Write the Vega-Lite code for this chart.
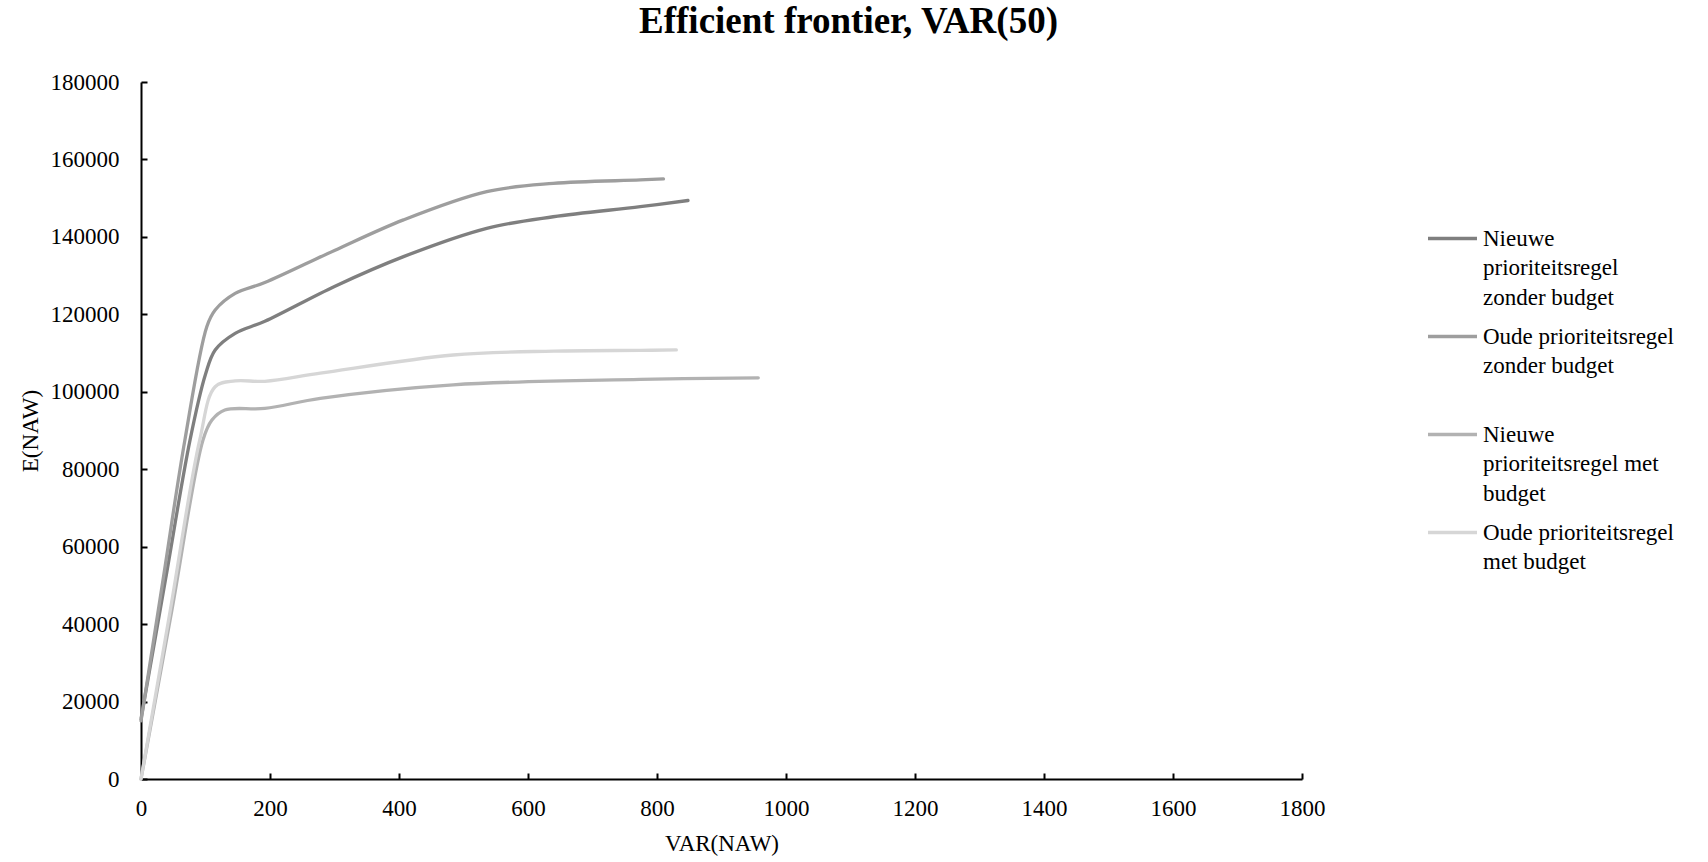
{
  "$schema": "https://vega.github.io/schema/vega-lite/v6.json",
  "width": 1161,
  "height": 697,
  "autosize": {"type": "none"},
  "padding": {"left": 141, "top": 82, "right": 406, "bottom": 83},
  "background": "white",
  "title": {
    "text": "Efficient frontier, VAR(50)",
    "font": "Liberation Serif",
    "fontSize": 37,
    "fontWeight": "bold",
    "color": "black",
    "anchor": "middle",
    "baseline": "alphabetic",
    "dx": 127,
    "offset": 1
  },
  "config": {
    "view": {"stroke": null},
    "style": {"guide-label": {"lineHeight": 29.5}}
  },
  "data": {
    "values": [
      {"s": "Nieuwe prioriteitsregel zonder budget", "x": 0, "y": 15500},
      {"s": "Nieuwe prioriteitsregel zonder budget", "x": 38, "y": 51500},
      {"s": "Nieuwe prioriteitsregel zonder budget", "x": 76, "y": 87500},
      {"s": "Nieuwe prioriteitsregel zonder budget", "x": 100, "y": 104500},
      {"s": "Nieuwe prioriteitsregel zonder budget", "x": 115, "y": 110800},
      {"s": "Nieuwe prioriteitsregel zonder budget", "x": 146, "y": 115100},
      {"s": "Nieuwe prioriteitsregel zonder budget", "x": 192, "y": 118200},
      {"s": "Nieuwe prioriteitsregel zonder budget", "x": 300, "y": 127200},
      {"s": "Nieuwe prioriteitsregel zonder budget", "x": 407, "y": 134900},
      {"s": "Nieuwe prioriteitsregel zonder budget", "x": 536, "y": 142200},
      {"s": "Nieuwe prioriteitsregel zonder budget", "x": 639, "y": 145200},
      {"s": "Nieuwe prioriteitsregel zonder budget", "x": 774, "y": 147800},
      {"s": "Nieuwe prioriteitsregel zonder budget", "x": 848, "y": 149400},
      {"s": "Oude prioriteitsregel zonder budget", "x": 0, "y": 15000},
      {"s": "Oude prioriteitsregel zonder budget", "x": 34, "y": 51250},
      {"s": "Oude prioriteitsregel zonder budget", "x": 68, "y": 87500},
      {"s": "Oude prioriteitsregel zonder budget", "x": 102, "y": 116800},
      {"s": "Oude prioriteitsregel zonder budget", "x": 115, "y": 121100},
      {"s": "Oude prioriteitsregel zonder budget", "x": 146, "y": 125400},
      {"s": "Oude prioriteitsregel zonder budget", "x": 192, "y": 128200},
      {"s": "Oude prioriteitsregel zonder budget", "x": 300, "y": 136500},
      {"s": "Oude prioriteitsregel zonder budget", "x": 407, "y": 144400},
      {"s": "Oude prioriteitsregel zonder budget", "x": 536, "y": 151700},
      {"s": "Oude prioriteitsregel zonder budget", "x": 639, "y": 153800},
      {"s": "Oude prioriteitsregel zonder budget", "x": 774, "y": 154700},
      {"s": "Oude prioriteitsregel zonder budget", "x": 810, "y": 155000},
      {"s": "Nieuwe prioriteitsregel met budget", "x": 0, "y": 0},
      {"s": "Nieuwe prioriteitsregel met budget", "x": 48, "y": 43700},
      {"s": "Nieuwe prioriteitsregel met budget", "x": 96, "y": 87500},
      {"s": "Nieuwe prioriteitsregel met budget", "x": 110, "y": 92700},
      {"s": "Nieuwe prioriteitsregel met budget", "x": 130, "y": 95300},
      {"s": "Nieuwe prioriteitsregel met budget", "x": 192, "y": 95700},
      {"s": "Nieuwe prioriteitsregel met budget", "x": 278, "y": 98300},
      {"s": "Nieuwe prioriteitsregel met budget", "x": 484, "y": 101800},
      {"s": "Nieuwe prioriteitsregel met budget", "x": 774, "y": 103200},
      {"s": "Nieuwe prioriteitsregel met budget", "x": 957, "y": 103600},
      {"s": "Oude prioriteitsregel met budget", "x": 0, "y": 0},
      {"s": "Oude prioriteitsregel met budget", "x": 45, "y": 43200},
      {"s": "Oude prioriteitsregel met budget", "x": 91, "y": 87500},
      {"s": "Oude prioriteitsregel met budget", "x": 115, "y": 101300},
      {"s": "Oude prioriteitsregel met budget", "x": 146, "y": 102800},
      {"s": "Oude prioriteitsregel met budget", "x": 192, "y": 102700},
      {"s": "Oude prioriteitsregel met budget", "x": 278, "y": 104800},
      {"s": "Oude prioriteitsregel met budget", "x": 484, "y": 109500},
      {"s": "Oude prioriteitsregel met budget", "x": 640, "y": 110500},
      {"s": "Oude prioriteitsregel met budget", "x": 774, "y": 110700},
      {"s": "Oude prioriteitsregel met budget", "x": 830, "y": 110800}
    ]
  },
  "mark": {"type": "line", "interpolate": "catmull-rom", "strokeWidth": 3.3, "strokeCap": "round"},
  "encoding": {
    "x": {
      "field": "x", "type": "quantitative",
      "scale": {"domain": [0, 1800], "nice": false},
      "axis": {
        "title": "VAR(NAW)", "values": [0,200,400,600,800,1000,1200,1400,1600,1800],
        "grid": false, "format": "d", "labelFlush": false,
        "domainColor": "black", "domainWidth": 2, "tickColor": "black", "tickWidth": 2, "tickSize": -6,
        "labelFont": "Liberation Serif", "labelFontSize": 23, "labelColor": "black", "labelPadding": 24,
        "titleFont": "Liberation Serif", "titleFontSize": 23, "titleFontWeight": "normal", "titleColor": "black", "titlePadding": 12
      }
    },
    "y": {
      "field": "y", "type": "quantitative",
      "scale": {"domain": [0, 180000], "nice": false},
      "axis": {
        "title": "E(NAW)", "values": [0,20000,40000,60000,80000,100000,120000,140000,160000,180000],
        "grid": false, "format": "d", "labelFlush": false,
        "domainColor": "black", "domainWidth": 2, "tickColor": "black", "tickWidth": 2, "tickSize": -6,
        "labelFont": "Liberation Serif", "labelFontSize": 23, "labelColor": "black", "labelPadding": 28,
        "titleFont": "Liberation Serif", "titleFontSize": 23, "titleFontWeight": "normal", "titleColor": "black", "titlePadding": 8
      }
    },
    "color": {
      "field": "s", "type": "nominal",
      "scale": {
        "domain": ["Nieuwe prioriteitsregel zonder budget", "Oude prioriteitsregel zonder budget", "Nieuwe prioriteitsregel met budget", "Oude prioriteitsregel met budget"],
        "range": ["#7f7f7f", "#9e9e9e", "#b2b2b2", "#d6d6d6"]
      },
      "legend": {
        "title": null,
        "orient": "none",
        "legendX": 1285,
        "legendY": 130,
        "symbolType": "stroke",
        "symbolStrokeWidth": 3.3,
        "symbolSize": 2400,
        "labelOffset": 4,
        "labelFont": "Liberation Serif",
        "labelFontSize": 23,
        "labelColor": "black",
        "labelBaseline": "middle",
        "labelLimit": 0,
        "gridAlign": "all",
        "rowPadding": 0,
        "labelExpr": "datum.label == 'Nieuwe prioriteitsregel zonder budget' ? ['Nieuwe', 'prioriteitsregel', 'zonder budget'] : datum.label == 'Oude prioriteitsregel zonder budget' ? ['Oude prioriteitsregel', 'zonder budget'] : datum.label == 'Nieuwe prioriteitsregel met budget' ? ['Nieuwe', 'prioriteitsregel met', 'budget'] : ['Oude prioriteitsregel', 'met budget']"
      }
    }
  }
}
